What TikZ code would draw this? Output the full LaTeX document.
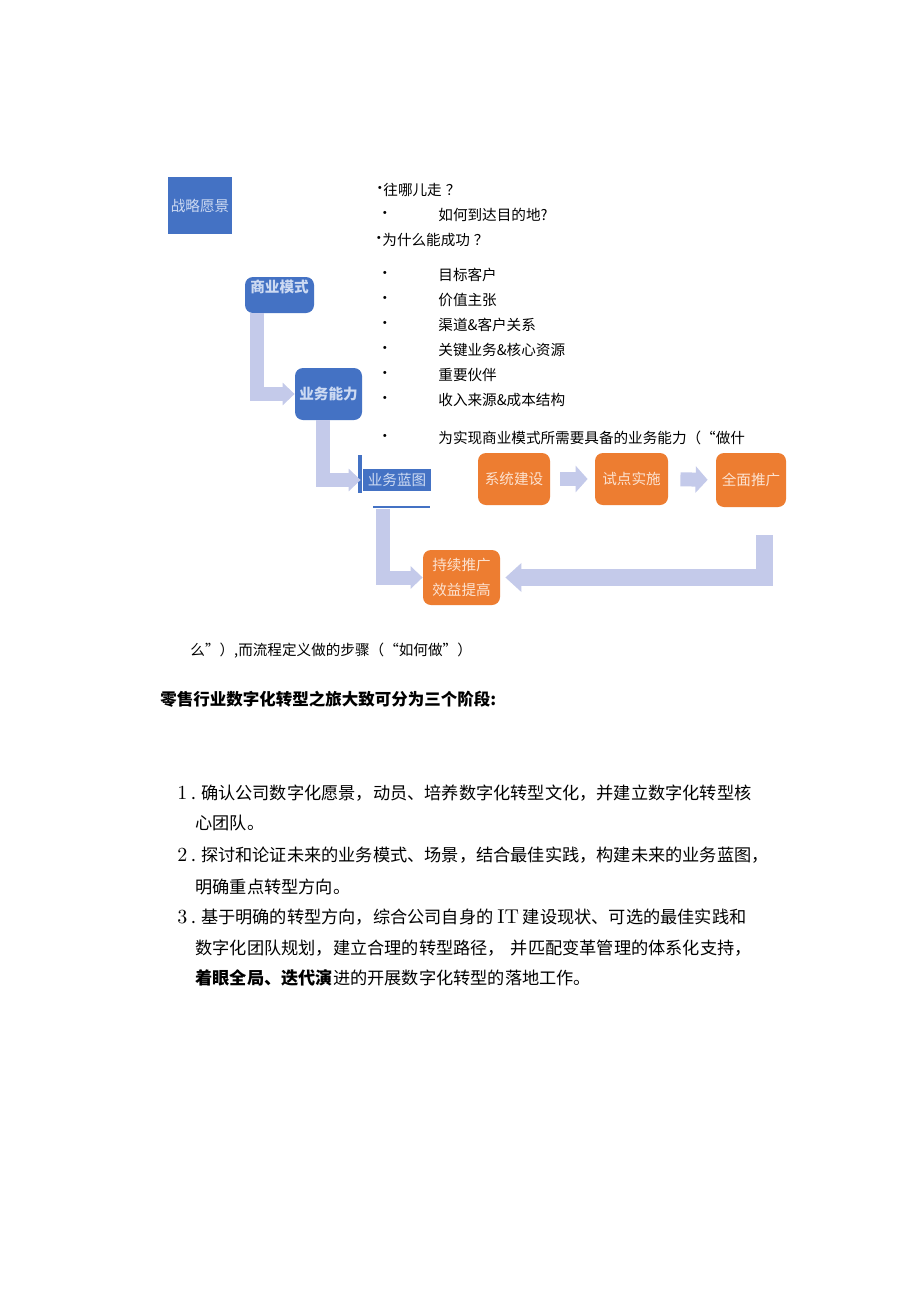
\documentclass[tikz,border=0pt]{standalone}
\usepackage{fontspec}
\usepackage{tikz}
\usetikzlibrary{arrows.meta}
\newfontfamily\cjk{Noto Sans CJK SC}
\definecolor{boxblue}{RGB}{68,114,196}
\definecolor{boxorange}{RGB}{237,125,49}
\definecolor{arrowlav}{RGB}{196,202,234}
\definecolor{labblue}{RGB}{205,218,242}
\definecolor{laborange}{RGB}{252,226,208}

\begin{document}
\begin{tikzpicture}[x=0.5pt, y=-0.5pt,
    bluebox/.style={fill=boxblue, text=labblue, inner sep=0pt, font=\cjk\fontsize{7.3}{9}\selectfont},
    boldbox/.style={bluebox, rounded corners=4pt, font=\cjk\bfseries\fontsize{7.3}{9}\selectfont},
    orangebox/.style={fill=boxorange, text=laborange, rounded corners=4pt, inner sep=0pt, font=\cjk\fontsize{7.3}{12.5}\selectfont},
    fat/.style={draw=arrowlav, line width=7pt, -{Triangle[length=6pt, width=11pt]}},
    txt/.style={anchor=west, inner sep=0pt, font=\cjk\fontsize{7.3}{9}\selectfont},
    dot/.style={inner sep=0pt, font=\cjk\fontsize{7.3}{9}\selectfont},
    body/.style={anchor=west, inner sep=0pt, font=\cjk\fontsize{8.6}{10}\selectfont},
    num/.style={anchor=west, inner sep=0pt, font=\fontsize{10}{10}\selectfont}]
    \useasboundingbox[fill=white] (0,0) rectangle (920,1301);

    \node[bluebox, minimum width=32pt, minimum height=28.5pt] (vision) at (200,205.5) {战略愿景};
    \node[boldbox, minimum width=34.5pt, minimum height=18pt, text depth=9pt] (model) at (279.5,295) {商业模式};
    \node[boldbox, minimum width=33.5pt, minimum height=26pt] (ability) at (328.5,394) {业务能力};
    \node[bluebox, minimum width=34pt, minimum height=11pt] (blueprint) at (397,480) {业务蓝图};
    \fill[boxblue] (358,455) rectangle (362,493);
    \draw[boxblue, line width=1pt] (373,507) -- (430,507);

    \node[orangebox, minimum width=36pt, minimum height=26pt] (build) at (514,479) {系统建设};
    \node[orangebox, minimum width=36.5pt, minimum height=26pt] (pilot) at (631.5,479) {试点实施};
    \node[orangebox, minimum width=35pt, minimum height=27pt] (rollout) at (751,480) {全面推广};
    \node[orangebox, minimum width=38.5pt, minimum height=27.5pt, align=center] (improve) at (461.5,577.5) {持续推广\\效益提高};

    \draw[fat] ([xshift=6pt]model.south west) |- (ability.west);
    \draw[fat, shorten >=1pt] ([xshift=14pt]ability.south west) |- (blueprint.west);
    \draw[fat] ([xshift=10pt, yshift=-9pt]blueprint.south west) |- (improve.west);
    \draw[fat, shorten <=5pt, shorten >=3.5pt, -{Triangle[length=6pt, width=13pt]}] (build.east) -- (pilot.west);
    \draw[fat, shorten <=6pt, shorten >=4pt, -{Triangle[length=6pt, width=13pt]}] (pilot.east) -- (rollout.west);
    \coordinate (turn) at ([xshift=6.5pt, yshift=-14pt]rollout.south);
    \draw[fat, line width=8.5pt, shorten >=2.5pt, -{Triangle[length=8pt, width=14pt]}] (turn) |- (improve.east);

    \node[dot] (wheredot) at (380,190) {•};
    \node[txt] (where) at (383,190) {往哪儿走\hspace{2pt}？};
    \node[dot] (howdot) at (385,215) {·};
    \node[txt] (how) at (438,215) {如何到达目的地?};
    \node[dot] (whydot) at (379,240) {·};
    \node[txt] (why) at (382,240) {为什么能成功\hspace{2pt}？};
    \node[dot] (targetdot) at (385,275) {·};
    \node[txt] (target) at (438,275) {目标客户};
    \node[dot] (valuedot) at (385,300) {·};
    \node[txt] (value) at (438,300) {价值主张};
    \node[dot] (channeldot) at (385,325) {·};
    \node[txt] (channel) at (438,325) {渠道\&客户关系};
    \node[dot] (keydot) at (385,350) {·};
    \node[txt] (key) at (438,350) {关键业务\&核心资源};
    \node[dot] (partnerdot) at (385,375) {·};
    \node[txt] (partner) at (438,375) {重要伙伴};
    \node[dot] (revenuedot) at (385,400) {·};
    \node[txt] (revenue) at (438,400) {收入来源\&成本结构};
    \node[dot] (capabdot) at (385,438) {·};
    \node[txt] (capab) at (438,438) {为实现商业模式所需要具备的业务能力（“做什};
    \node[txt] (tail) at (190,651) {么”）,而流程定义做的步骤（“如何做”）};

    \node[txt, font=\cjk\bfseries\fontsize{8.25}{9}\selectfont] (stages) at (160,699) {零售行业数字化转型之旅大致可分为三个阶段:};

    \node[num] (one) at (177,793) {1};
    \node[body] (stepa) at (191,793) {.\hspace{2.5pt}确认公司数字化愿景，动员、培养数字化转型文化，并建立数字化转型核};
    \node[body] (stepa2) at (195,823) {心团队。};
    \node[num] (two) at (177,855) {2};
    \node[body] (stepb) at (191,855) {.\hspace{2.5pt}探讨和论证未来的业务模式、场景，结合最佳实践，构建未来的业务蓝图，};
    \node[body] (stepb2) at (195,887) {明确重点转型方向。};
    \node[num] (three) at (177,917) {3};
    \node[body] (stepc) at (191,917) {.\hspace{2.5pt}基于明确的转型方向，综合公司自身的 {\rmfamily\fontsize{10}{10}\selectfont IT} 建设现状、可选的最佳实践和};
    \node[body] (stepc2) at (195,948) {数字化团队规划，建立合理的转型路径，\hspace{3pt}并匹配变革管理的体系化支持，};
    \node[body] (stepc3) at (195,978) {\textbf{着眼全局、迭代演}进的开展数字化转型的落地工作。};
\end{tikzpicture}
\end{document}
